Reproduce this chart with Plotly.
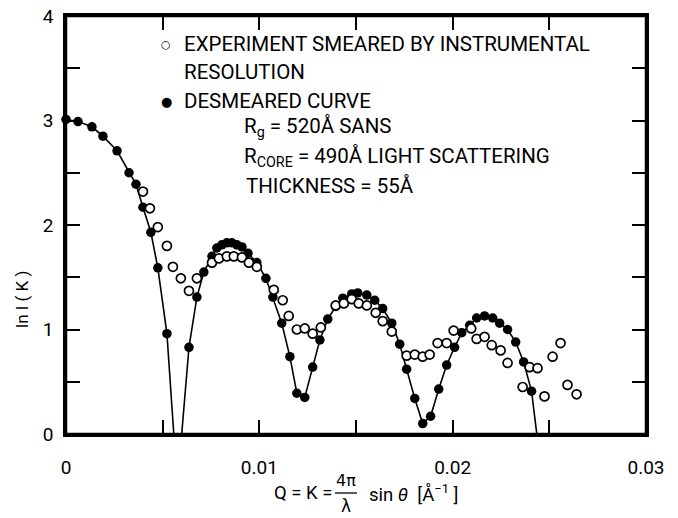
import plotly.graph_objects as go

# ---- data ----
q_desmeared = [0.0, 0.00062, 0.00134, 0.00191, 0.00264, 0.00326, 0.00362, 0.00398, 0.00439, 0.00475, 0.00522,
               0.00636, 0.00677, 0.00713, 0.00755, 0.00780, 0.00806, 0.00832, 0.00858, 0.00884, 0.00910,
               0.00941, 0.00987, 0.01034, 0.01070, 0.01116, 0.01158, 0.01194, 0.01235, 0.01276, 0.01313,
               0.01354, 0.01395, 0.01432, 0.01478, 0.01509, 0.01556, 0.01597, 0.01638, 0.01685, 0.01726,
               0.01762, 0.01804, 0.01845, 0.01886, 0.01928, 0.01969, 0.02010, 0.02047, 0.02088, 0.02124,
               0.02165, 0.02207, 0.02243, 0.02284, 0.02326, 0.02367, 0.02408]
ln_desmeared = [3.01, 2.99, 2.94, 2.85, 2.71, 2.50, 2.39, 2.17, 1.93, 1.59, 0.96,
                0.83, 1.31, 1.55, 1.70, 1.78, 1.81, 1.83, 1.83, 1.81, 1.79,
                1.73, 1.64, 1.49, 1.31, 1.06, 0.74, 0.39, 0.35, 0.64, 0.90,
                1.10, 1.22, 1.30, 1.34, 1.35, 1.33, 1.28, 1.20, 1.06, 0.86,
                0.62, 0.34, 0.10, 0.17, 0.43, 0.66, 0.83, 0.97, 1.04, 1.11,
                1.13, 1.11, 1.06, 1.00, 0.88, 0.69, 0.41]

q_smeared = [0.00398, 0.00434, 0.00475, 0.00522, 0.00553, 0.00594, 0.00636, 0.00677, 0.00755, 0.00791,
             0.00832, 0.00868, 0.00910, 0.00946, 0.00987, 0.01075, 0.01121, 0.01152, 0.01194, 0.01235,
             0.01276, 0.01318, 0.01395, 0.01437, 0.01478, 0.01514, 0.01556, 0.01602, 0.01638, 0.01685,
             0.01762, 0.01804, 0.01845, 0.01881, 0.01922, 0.01969, 0.02005, 0.02096, 0.02124, 0.02165,
             0.02202, 0.02248, 0.02284, 0.02362, 0.02398, 0.02439, 0.02475, 0.02517, 0.02558, 0.02594,
             0.02641]
ln_smeared = [2.32, 2.16, 1.98, 1.80, 1.60, 1.49, 1.37, 1.49, 1.64, 1.68,
              1.70, 1.70, 1.69, 1.64, 1.60, 1.38, 1.28, 1.13, 1.00, 1.01,
              0.96, 1.02, 1.23, 1.25, 1.29, 1.25, 1.23, 1.16, 1.08, 0.98,
              0.75, 0.76, 0.74, 0.76, 0.87, 0.87, 0.99, 1.01, 0.91, 0.93,
              0.85, 0.80, 0.68, 0.45, 0.64, 0.63, 0.36, 0.74, 0.87, 0.47,
              0.38]

# curve continues below the axis at the deep minima
curve_extra_q = [0.00576, 0.02455]
curve_extra_ln = [-0.5, -0.3]

# tick marks every 0.005 / 0.5, labels on the whole units
x_tick_vals = [0, 0.005, 0.01, 0.015, 0.02, 0.025, 0.03]
x_tick_text = ["0", " ", "0.01", " ", "0.02", " ", "0.03"]
y_tick_vals = [0, 0.5, 1, 1.5, 2, 2.5, 3, 3.5, 4]
y_tick_text = ["0", " ", "1", " ", "2", " ", "3", " ", "4"]

legend_lines = [
    "EXPERIMENT SMEARED BY INSTRUMENTAL",
    "RESOLUTION",
    "DESMEARED CURVE",
    "R<sub>g</sub> = 520Å SANS",
    "R<sub>CORE</sub> = 490Å LIGHT SCATTERING",
    "THICKNESS = 55Å",
]

# ---- figure ----
W, H = 678, 518
L, R, T, B = 66, 32, 16, 84
PW, PH = W - L - R, H - T - B
X_RANGE = [0, 0.03]
Y_RANGE = [0, 4]


def px(xp):
    return (xp - L) / PW


def py(yp):
    return (H - B - yp) / PH


curve = sorted(zip(q_desmeared + curve_extra_q, ln_desmeared + curve_extra_ln))
curve_q = [c[0] for c in curve]
curve_ln = [c[1] for c in curve]

fig = go.Figure()
fig.add_trace(go.Scatter(x=curve_q, y=curve_ln, mode="lines",
                         line=dict(color="black", width=1.6), hoverinfo="skip"))
fig.add_trace(go.Scatter(x=q_desmeared, y=ln_desmeared, mode="markers", cliponaxis=False,
                         marker=dict(symbol="circle", size=9.5, color="black",
                                     line=dict(color="black", width=0)),
                         name="DESMEARED CURVE"))
fig.add_trace(go.Scatter(x=q_smeared, y=ln_smeared, mode="markers", cliponaxis=False,
                         marker=dict(symbol="circle", size=9, color="white",
                                     line=dict(color="black", width=1.7)),
                         name="EXPERIMENT SMEARED BY INSTRUMENTAL RESOLUTION"))

FONT = "Roboto"
ax_common = dict(showline=True, linecolor="#000000", linewidth=2.5, mirror="ticks",
                 ticks="inside", ticklen=14, tickwidth=2, tickcolor="#000000",
                 showgrid=False, zeroline=False, tickmode="array", layer="above traces",
                 automargin=False, tickfont=dict(family=FONT, size=19, color="black"))

fig.update_xaxes(range=X_RANGE, tickvals=x_tick_vals, ticktext=x_tick_text,
                 ticklabelstandoff=14, **ax_common)
fig.update_yaxes(range=Y_RANGE, tickvals=y_tick_vals, ticktext=y_tick_text,
                 ticklabelstandoff=6, **ax_common)

shapes = [
    dict(type="rect", xref="paper", yref="paper", x0=0, x1=1, y0=0, y1=1,
         line=dict(color="#000000", width=2.5), fillcolor="rgba(0,0,0,0)", layer="above"),
    dict(type="line", xref="paper", yref="paper", x0=px(335), x1=px(357),
         y0=py(493), y1=py(493), line=dict(color="black", width=1.3)),
]

ann = []
tf = dict(family=FONT, size=20.5, color="black")
# legend symbols
ann.append(dict(x=px(166), y=py(44), text="○", font=dict(family="DejaVu Sans", size=11, color="black"),
                xanchor="center", yanchor="middle"))
ann.append(dict(x=px(166), y=py(101), text="●", font=dict(family="DejaVu Sans", size=13, color="black"),
                xanchor="center", yanchor="middle"))
legend_pos = [(182, 44), (182, 72), (182, 101), (242, 128), (242, 157), (244, 186)]
for txt, (xp, yp) in zip(legend_lines, legend_pos):
    ann.append(dict(x=px(xp), y=py(yp), text=txt, font=tf, xanchor="left", yanchor="middle"))

# axis titles
ann.append(dict(x=px(22), y=py(300), text="ln I ( K )", textangle=-90,
                font=dict(family=FONT, size=17, color="black"), xanchor="center", yanchor="middle"))
xf = dict(family=FONT, size=18.5, color="black")
ann.append(dict(x=px(334), y=py(493), text="Q = K =", font=xf, xanchor="right", yanchor="middle"))
ann.append(dict(x=px(346), y=py(480), text="4π", font=dict(family="DejaVu Sans", size=16, color="black"),
                xanchor="center", yanchor="middle"))
ann.append(dict(x=px(346), y=py(506), text="λ", font=dict(family="DejaVu Sans", size=17, color="black"),
                xanchor="center", yanchor="middle"))
ann.append(dict(x=px(367), y=py(493), text="sin <i>θ</i>  [Å<sup>−1</sup> ]", font=xf,
                xanchor="left", yanchor="middle"))
for a in ann:
    a.update(xref="paper", yref="paper", showarrow=False)

fig.update_layout(
    width=W, height=H, margin=dict(l=L, r=R, t=T, b=B, autoexpand=False),
    paper_bgcolor="white", plot_bgcolor="white", showlegend=False,
    annotations=ann, shapes=shapes,
)

fig.write_html("out.html")
